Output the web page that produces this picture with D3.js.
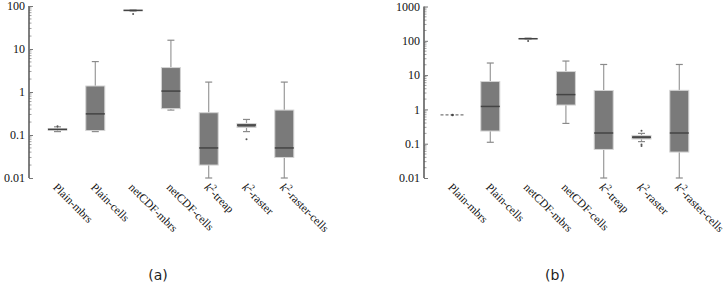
<!DOCTYPE html>
<html>
<head>
<meta charset="utf-8">
<script src="https://cdn.jsdelivr.net/npm/d3@7"></script>
<style>
  body { margin: 0; background: #fff; }
  svg { display: block; }
</style>
</head>
<body>
<div id="chart"></div>
<script>
// categories (k2-* drawn as k with superscript 2)
var categories = ["Plain-mbrs", "Plain-cells", "netCDF-mbrs", "netCDF-cells", "k2-treap", "k2-raster", "k2-raster-cells"];

// box stats per category: [whiskerLow, q1, median, q3, whiskerHigh]
var statsA = [
  [0.12, 0.13, 0.135, 0.14, 0.155],
  [0.12, 0.127, 0.31, 1.38, 5.1],
  [76, 78, 79, 80.5, 82],
  [0.38, 0.41, 1.05, 3.7, 16],
  [0.01, 0.02, 0.05, 0.33, 1.7],
  [0.12, 0.15, 0.17, 0.185, 0.23],
  [0.01, 0.03, 0.05, 0.38, 1.7]
];
var outliersA = [[0.16], [], [65], [], [], [0.08], []];

var statsB = [
  [0.69, 0.69, 0.69, 0.69, 0.69],
  [0.11, 0.234, 1.22, 6.5, 22.5],
  [112, 114, 115, 117, 120],
  [0.39, 1.34, 2.7, 12.7, 25.7],
  [0.01, 0.068, 0.205, 3.56, 20.4],
  [0.115, 0.137, 0.155, 0.174, 0.2],
  [0.01, 0.057, 0.205, 3.6, 20.4]
];
var outliersB = [[], [], [98], [], [], [0.24, 0.095, 0.085], []];

var ticksA = [0.01, 0.1, 1, 10, 100];
var ticksB = [0.01, 0.1, 1, 10, 100, 1000];

var svg = d3.select("#chart").append("svg")
  .attr("width", 727)
  .attr("height", 288);

function drawPanel(opts) {
  var g = svg.append("g");
  var y = d3.scaleLog().domain(opts.domain).range([178, opts.top]);
  var x = d3.scalePoint().domain(categories)
    .range([opts.axisX + 28.5, opts.axisX + 28.5 + 6 * 37.8]);

  // minor ticks on the log axis
  var minor = [];
  for (var e = Math.log10(opts.domain[0]); e < Math.log10(opts.domain[1]); e++) {
    for (var m = 2; m <= 9; m++) minor.push(m * Math.pow(10, e));
  }
  g.selectAll(".minor").data(minor).enter().append("line")
    .attr("x1", opts.axisX).attr("x2", opts.axisX + 2.5)
    .attr("y1", function(d) { return y(d); }).attr("y2", function(d) { return y(d); })
    .attr("stroke", "#888").attr("stroke-width", 0.8);

  var axis = d3.axisLeft(y).tickValues(opts.ticks).tickSize(-4)
    .tickFormat(function(d) { return String(d); });
  var ag = g.append("g").attr("transform", "translate(" + opts.axisX + ",0)").call(axis);
  ag.select(".domain").attr("stroke", "#555").attr("stroke-width", 1.5)
    .attr("d", "M0," + y(opts.domain[1]) + "V" + y(opts.domain[0]));
  ag.selectAll(".tick line").attr("stroke", "#777");
  ag.selectAll(".tick text")
    .attr("x", -4)
    .attr("font-family", "'Liberation Serif', serif")
    .attr("font-size", 12)
    .attr("fill", "#111");

  var bw = 19, cap = 7;
  var box = g.selectAll(".box").data(opts.stats).enter().append("g")
    .attr("transform", function(d, i) { return "translate(" + x(categories[i]) + ",0)"; });

  // flat boxes (all values equal) drawn as a dashed line with a centre dot
  var flat = box.filter(function(d) { return d[1] === d[3]; });
  var real = box.filter(function(d) { return d[1] !== d[3]; });

  flat.append("line")
    .attr("x1", -12).attr("x2", 12)
    .attr("y1", function(d) { return y(d[2]); }).attr("y2", function(d) { return y(d[2]); })
    .attr("stroke", "#777").attr("stroke-width", 1.2)
    .attr("stroke-dasharray", "3,2");
  flat.append("circle")
    .attr("cx", 0).attr("cy", function(d) { return y(d[2]); })
    .attr("r", 1.3).attr("fill", "#444");

  // whiskers
  real.append("line")
    .attr("x1", 0).attr("x2", 0)
    .attr("y1", function(d) { return y(d[4]); }).attr("y2", function(d) { return y(d[3]); })
    .attr("stroke", "#9a9a9a").attr("stroke-width", 1.2);
  real.append("line")
    .attr("x1", 0).attr("x2", 0)
    .attr("y1", function(d) { return y(d[1]); }).attr("y2", function(d) { return y(d[0]); })
    .attr("stroke", "#9a9a9a").attr("stroke-width", 1.2);
  [0, 4].forEach(function(k) {
    real.append("line")
      .attr("x1", -cap / 2).attr("x2", cap / 2)
      .attr("y1", function(d) { return y(d[k]); }).attr("y2", function(d) { return y(d[k]); })
      .attr("stroke", "#8a8a8a").attr("stroke-width", 1.2);
  });

  // box
  real.append("rect")
    .attr("x", -bw / 2).attr("width", bw)
    .attr("y", function(d) { return y(d[3]); })
    .attr("height", function(d) { return y(d[1]) - y(d[3]); })
    .attr("fill", "#7a7a7a")
    .attr("stroke", "#d4d4d4")
    .attr("stroke-width", 1);

  // median
  real.append("line")
    .attr("x1", -bw / 2).attr("x2", bw / 2)
    .attr("y1", function(d) { return y(d[2]); }).attr("y2", function(d) { return y(d[2]); })
    .attr("stroke", "#444").attr("stroke-width", 1.5);

  // outliers
  box.each(function(d, i) {
    d3.select(this).selectAll(".out").data(opts.outliers[i]).enter().append("circle")
      .attr("cx", 0).attr("cy", function(v) { return y(v); })
      .attr("r", 1).attr("fill", "#555");
  });

  // category labels, rotated
  var lab = g.selectAll(".lab").data(categories).enter().append("text")
    .attr("transform", function(d) { return "translate(" + (x(d) - 5) + ",188) rotate(45)"; })
    .attr("font-family", "'Liberation Serif', serif")
    .attr("font-size", 11.5)
    .attr("fill", "#111");
  lab.each(function(d) {
    var t = d3.select(this);
    if (d.indexOf("k2") === 0) {
      t.append("tspan").attr("font-style", "italic").text("k");
      t.append("tspan").attr("dy", -5).attr("font-size", 8.5).text("2");
      t.append("tspan").attr("dy", 5).text(d.slice(2));
    } else {
      t.text(d);
    }
  });

  g.append("text")
    .attr("x", opts.titleX).attr("y", 280)
    .attr("text-anchor", "middle")
    .attr("font-family", "'DejaVu Sans', sans-serif")
    .attr("font-size", 14)
    .attr("fill", "#222")
    .text(opts.title);
}

drawPanel({axisX: 29, top: 6, domain: [0.01, 100], ticks: ticksA, stats: statsA, outliers: outliersA, title: "(a)", titleX: 158});
drawPanel({axisX: 424, top: 6.5, domain: [0.01, 1000], ticks: ticksB, stats: statsB, outliers: outliersB, title: "(b)", titleX: 555});
</script>
</body>
</html>
